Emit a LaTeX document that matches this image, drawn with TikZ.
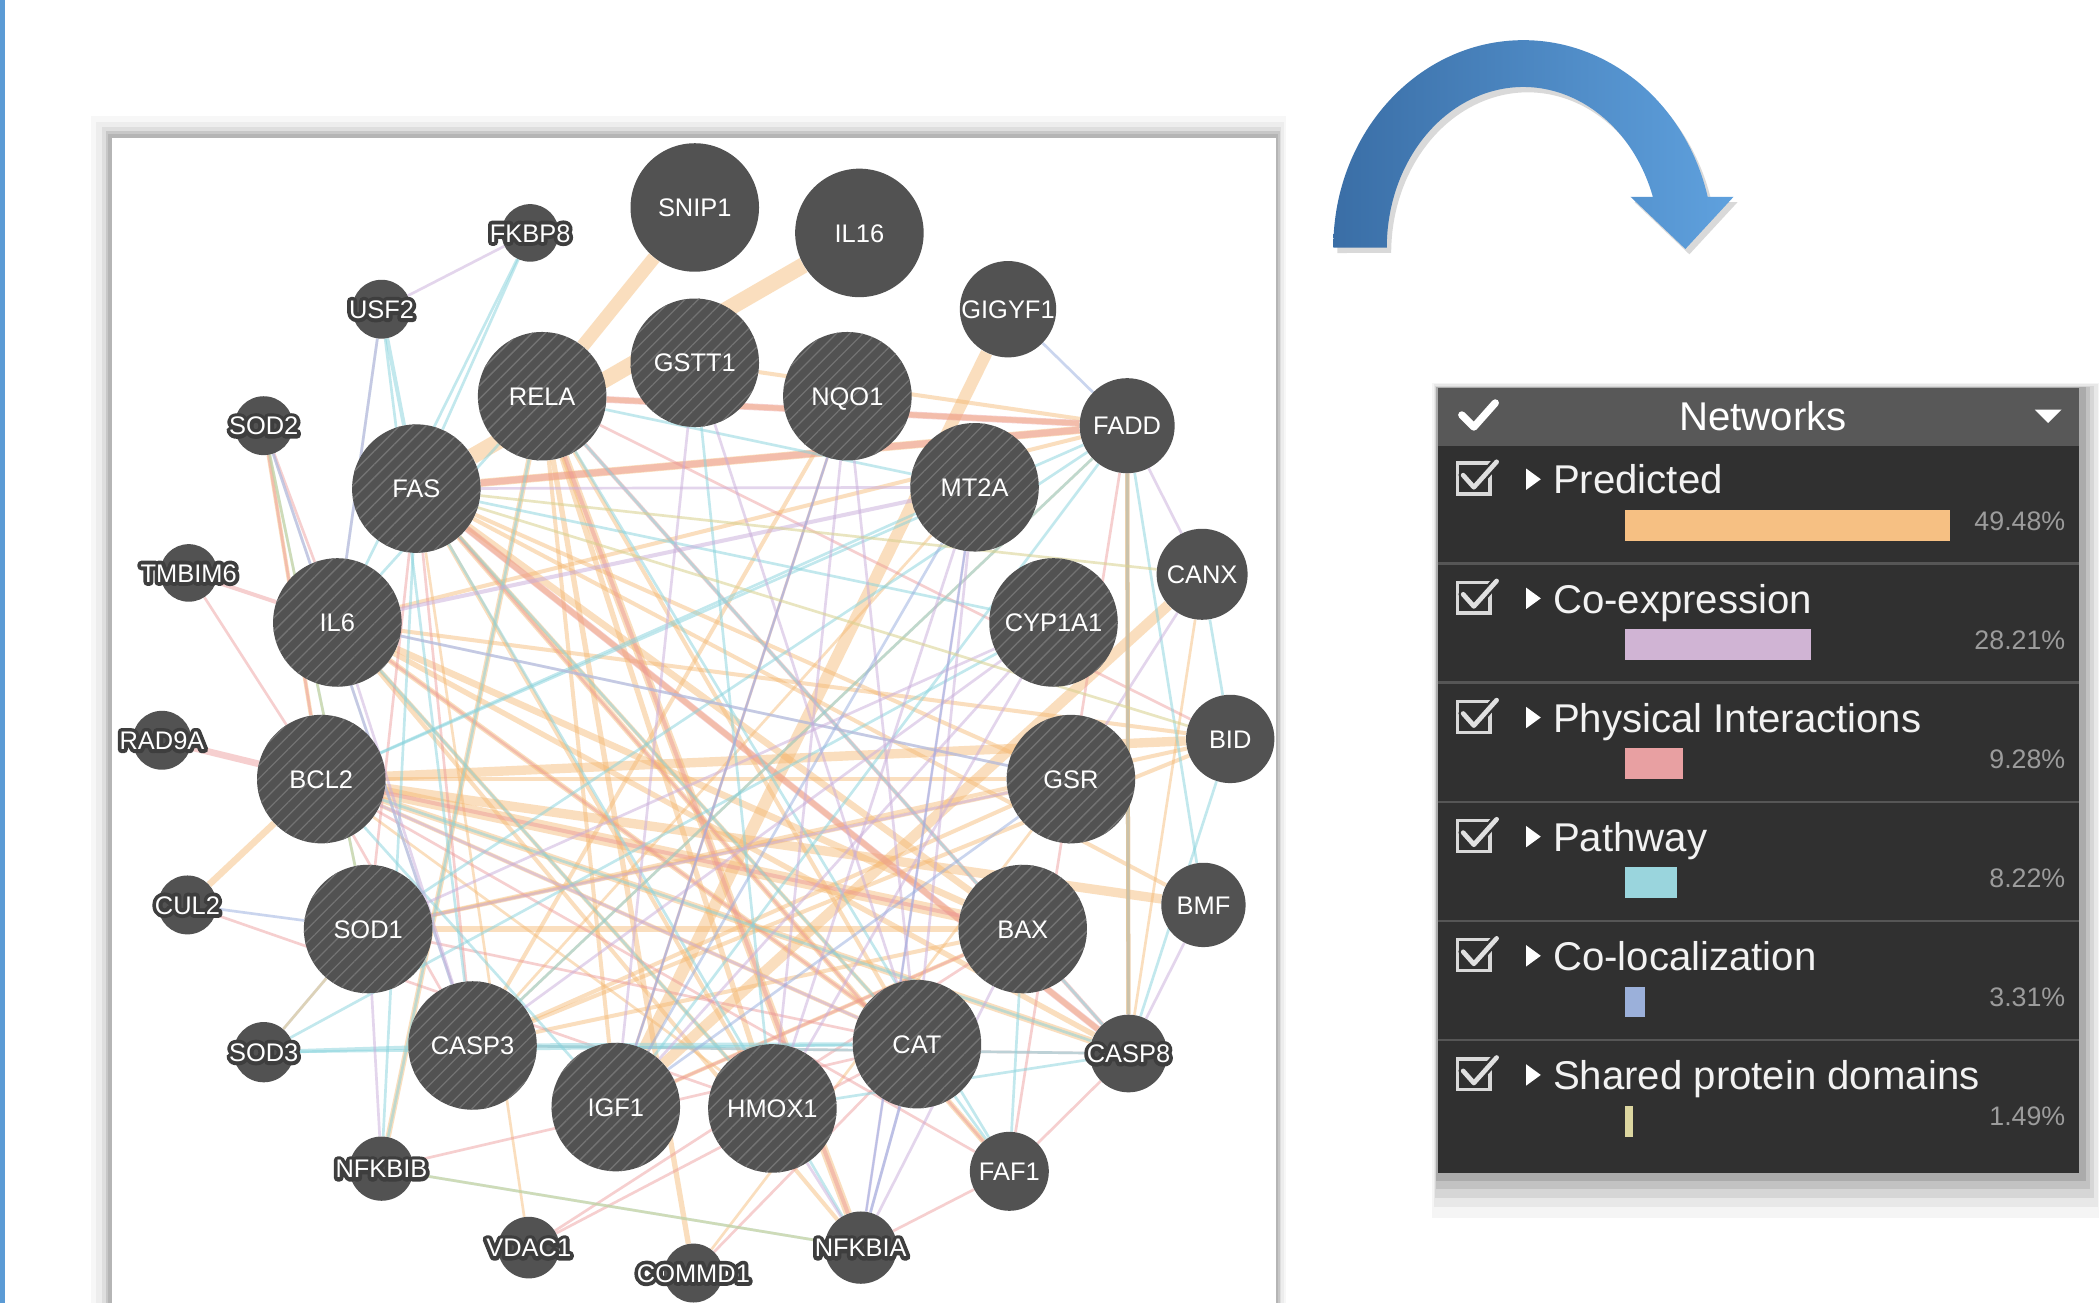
\documentclass[tikz,border=0pt]{standalone}
\usepackage{fontspec}
\setmainfont{Liberation Sans}
\newfontfamily\oboldfont[FakeBold=30]{Liberation Sans}
\usetikzlibrary{patterns.meta}
\pgfdeclarelayer{background}
\pgfsetlayers{background,main}
\definecolor{nodec}{HTML}{525252}
\definecolor{hatchc}{HTML}{737373}
\definecolor{outc}{HTML}{3E3E3E}
\definecolor{edgeP}{HTML}{F5B870}
\definecolor{edgeC}{HTML}{C9ACDA}
\definecolor{edgeX}{HTML}{EC9696}
\definecolor{edgeW}{HTML}{86D3DD}
\definecolor{edgeL}{HTML}{97ADDF}
\definecolor{edgeS}{HTML}{D8D18E}
\definecolor{barP}{HTML}{F6C083}
\definecolor{barC}{HTML}{D0B4D4}
\definecolor{barX}{HTML}{E8A0A2}
\definecolor{barW}{HTML}{9AD5DD}
\definecolor{barL}{HTML}{9BB0DA}
\definecolor{barS}{HTML}{DCD6A0}
\definecolor{panelbody}{HTML}{303030}
\definecolor{panelhead}{HTML}{585858}
\definecolor{sepc}{HTML}{565656}
\definecolor{pctc}{HTML}{9C9C9C}
\definecolor{blueedge}{HTML}{5B9BD5}
\definecolor{arrowL}{HTML}{3A6EA6}
\definecolor{arrowR}{HTML}{5FA1DE}
% outlined label: emboldened dark copy (round joins) under a white copy
\newcommand\outl[1]{%
  \makebox[0pt]{\special{pdf:literal direct 1 j 1 J 1 M}\textcolor{outc}{\oboldfont #1}}%
  \makebox[0pt]{\textcolor{white}{#1}}}
\begin{document}
\begin{tikzpicture}[x=1pt,y=-1pt,
  nfont/.style={font=\fontsize{19}{19}\selectfont, text height=13.6pt, text depth=0pt},
  big/.style={circle, fill=nodec, minimum size=96pt, inner sep=0pt, text=white, nfont},
  hatched/.style={big, postaction={pattern={Lines[angle=45,distance=7pt,line width=1pt]}, pattern color=hatchc}},
  med/.style={circle, fill=nodec, inner sep=0pt, text=white, nfont},
  small/.style={circle, fill=nodec, inner sep=0pt},
  lblw/.style={text=white, inner sep=0pt, nfont},
  ep/.style={draw=edgeP, opacity=0.45, line width=#1pt}, ep/.default=1.6,
  ec/.style={draw=edgeC, opacity=0.5, line width=#1pt}, ec/.default=1.6,
  ex/.style={draw=edgeX, opacity=0.45, line width=#1pt}, ex/.default=1.6,
  ew/.style={draw=edgeW, opacity=0.5, line width=#1pt}, ew/.default=1.6,
  el/.style={draw=edgeL, opacity=0.5, line width=#1pt}, el/.default=1.6,
  es/.style={draw=edgeS, opacity=0.55, line width=#1pt}, es/.default=1.6,
  legtxt/.style={text=white!95!black, inner sep=0pt, anchor=base west, font=\fontsize{30}{30}\selectfont},
  pcttxt/.style={text=pctc, inner sep=0pt, anchor=base east, font=\fontsize{20}{20}\selectfont}
]
\useasboundingbox (0,0) rectangle (1568,973);
% blue left edge
\fill[blueedge] (0,0) rectangle (4,973);

% ---------------- network nodes ----------------
\foreach \n/\x/\y in {SNIP1/519/155, IL16/642/174}
  \node[big] (\n) at (\x,\y) {\n};
\foreach \n/\x/\y in {RELA/405/296, GSTT1/519/271, NQO1/633/296, FAS/311/365, MT2A/728/364,
  IL6/252/465, CYP1A1/787/465, BCL2/240/582, GSR/800/582, SOD1/275/694, BAX/764/694,
  CASP3/353/781, CAT/685/780, IGF1/460/827, HMOX1/577/828}
  \node[hatched] (\n) at (\x,\y) {\n};
\foreach \n/\x/\y/\d in {GIGYF1/753/231/72, FADD/842/318/71, CANX/898/429/68, BID/919/552/66,
  BMF/899/676/63, FAF1/754/875/59}
  \node[med, minimum size=\d pt] (\n) at (\x,\y) {\n};
\foreach \n/\x/\y/\d in {FKBP8/396/174/43, USF2/285/231/44, SOD2/197/318/44, TMBIM6/141/428/43,
  RAD9A/121/553/44, CUL2/140/676/44, SOD3/197/786/45, NFKBIB/285/873/48, VDAC1/395/932/46,
  COMMD1/518/951/44, NFKBIA/643/932/54, CASP8/843/787/58}
  {\node[small, minimum size=\d pt] (\n) at (\x,\y) {};
   \node[lblw] (\n-lab) at (\n.center) {\outl{\n}};}

% ---------------- panel frame and edges (behind) ----------------
\begin{pgfonlayer}{background}
\fill[white] (0,0) rectangle (1568,973);
\fill[black!3] (68,87) rectangle (961,973);
\fill[black!7] (72,91) rectangle (959,973);
\fill[black!13] (76,95) rectangle (957,973);
\fill[black!22] (79,98) rectangle (956,973);
\fill[black!29] (81,100) rectangle (955,973);
\fill[white] (84,103) rectangle (953,973);

% predicted
\foreach \a/\b/\w in {SNIP1/RELA/10, IL16/FAS/12, GIGYF1/IGF1/9, CANX/IGF1/8, FAS/FADD/6,
  RELA/FADD/4, GSTT1/FADD/3, BCL2/BID/7, BCL2/BMF/7, BCL2/BAX/9, BCL2/CASP8/5, BCL2/GSR/3,
  IL6/BAX/5, IL6/CASP8/4, FAS/BAX/5, FAS/CASP8/4, RELA/NFKBIA/6, RELA/HMOX1/4, NFKBIB/RELA/4,
  COMMD1/RELA/4, CUL2/BCL2/5, SOD2/BCL2/3, SOD1/BAX/4, SOD1/GSR/3, SOD1/BID/3, CASP3/BID/3,
  CASP3/BAX/3, CAT/FAS/3, CAT/IL6/4, HMOX1/FAS/3, HMOX1/IL6/3, IGF1/RELA/3, NQO1/CASP3/3,
  GSR/CASP3/3, FAS/FAF1/4, FADD/CASP8/3, CANX/CASP8/2, IL6/FADD/3, FAS/GSR/3, RELA/CAT/3,
  IL6/BID/3, FAS/BMF/3, NFKBIA/IL6/3, CASP3/FADD/2, NQO1/IGF1/2, MT2A/CASP3/2, HMOX1/BCL2/2,
  IGF1/BAX/3, COMMD1/GSR/2, VDAC1/FAS/2, CAT/BCL2/3}
  \draw[ep=\w] (\a) -- (\b);
% physical
\foreach \a/\b/\w in {FAS/FADD/5, RAD9A/BCL2/5, FAS/CASP8/5, TMBIM6/IL6/3, TMBIM6/BCL2/2,
  SOD2/IL6/2, SOD2/BCL2/2, RELA/NFKBIA/3, FADD/CASP8/3, FADD/FAF1/2, BAX/BCL2/3, CASP8/FAF1/2,
  CASP8/CASP3/2, VDAC1/BAX/2, VDAC1/CAT/2, NFKBIA/FAF1/2, CUL2/HMOX1/2, CASP3/FAS/2, SOD1/CAT/2,
  IGF1/BAX/2, FAS/FAF1/2, RELA/BID/2, RELA/FADD/5, IL6/CAT/2, COMMD1/CAT/2, NFKBIB/CAT/2,
  CASP3/BCL2/2, FAF1/BCL2/2, RELA/CASP8/3, SOD1/FAS/2}
  \draw[ex=\w] (\a) -- (\b);
% pathway
\foreach \a/\b/\w in {USF2/FAS/3, USF2/IL6/2, FKBP8/FAS/2, FKBP8/IL6/2, SOD2/CASP3/2, SOD2/SOD1/2,
  SOD3/CASP3/3, SOD3/CAT/2, CASP3/CAT/3, CASP3/CASP8/2, NFKBIB/FAS/2, NFKBIB/RELA/2,
  NFKBIB/NFKBIA/2, FADD/IGF1/2, FADD/CASP3/2, BID/CASP8/2, CANX/BID/2, RELA/CASP8/2, RELA/FAF1/2,
  FAS/CAT/2, IL6/HMOX1/2, BCL2/CASP8/2, BAX/FAF1/2, CAT/FAF1/2, RELA/IL6/2, IL6/GSR/2,
  FAS/NFKBIA/2, SOD1/FADD/2, BCL2/FADD/2, GSTT1/HMOX1/2, FADD/BMF/2, CYP1A1/SOD3/2, RELA/MT2A/2,
  FAS/CYP1A1/2, IGF1/BCL2/2, HMOX1/CASP8/2, MT2A/BCL2/2, USF2/CASP3/2}
  \draw[ew=\w] (\a) -- (\b);
% co-expression
\foreach \a/\b/\w in {IL6/MT2A/3, GSTT1/IGF1/2, GSTT1/CAT/2, NQO1/HMOX1/2, NQO1/CAT/2, MT2A/CAT/2,
  MT2A/HMOX1/2, CYP1A1/IGF1/2, CYP1A1/CASP3/2, CYP1A1/HMOX1/2, CYP1A1/SOD1/2, GSR/SOD1/2,
  GSR/IL6/2, USF2/FKBP8/2, USF2/IL6/2, HMOX1/NFKBIA/2, CAT/NFKBIA/2, BMF/CASP8/2, FADD/CASP8/2,
  MT2A/NFKBIA/2, NQO1/IGF1/2, SOD1/NFKBIB/2, SOD2/CASP3/2, CAT/BCL2/2, FAS/MT2A/2, CANX/GSR/2,
  CASP3/IL6/2, SOD3/SOD1/2, CANX/FADD/2, BAX/NFKBIA/2}
  \draw[ec=\w] (\a) -- (\b);
% co-localization
\foreach \a/\b/\w in {GIGYF1/FADD/2, CUL2/SOD1/2, MT2A/IGF1/2, CAT/NFKBIA/2, FADD/CASP8/2,
  MT2A/NFKBIA/1.5, GSR/IGF1/2, NQO1/IGF1/1.5}
  \draw[el=\w] (\a) -- (\b);
% shared protein domains
\foreach \a/\b/\w in {FADD/CASP8/3, SOD3/SOD1/2, NFKBIB/NFKBIA/2, FAS/BID/2, SOD2/SOD1/2, FAS/CANX/2}
  \draw[es=\w] (\a) -- (\b);
\end{pgfonlayer}

% ---------------- curved arrow ----------------
\fill[black, opacity=0.15] (999,189) arc[start angle=180,end angle=345.81,x radius=142,y radius=155]
  -- (1298,151) -- (1262,190) -- (1221,151) -- (1238,151)
  arc[start angle=341.54,end angle=180,x radius=102,y radius=120] -- cycle;
\shade[left color=arrowL, right color=arrowR]
  (996,185) arc[start angle=180,end angle=345.81,x radius=142,y radius=155]
  -- (1295,147) -- (1259,186) -- (1218,147) -- (1234.7,147)
  arc[start angle=341.54,end angle=180,x radius=102,y radius=120] -- cycle;

% ---------------- legend panel ----------------
\fill[black!4] (1070,286) rectangle (1568,910);
\fill[black!9] (1071,287) rectangle (1567,902);
\fill[black!16] (1072,288) rectangle (1564,895);
\fill[black!24] (1073,289) rectangle (1561,888);
\fill[black!33] (1073,289) rectangle (1558,882);
\fill[panelbody] (1074,290) rectangle (1553,876);
\fill[panelhead] (1074,290) rectangle (1553,333);
\draw[white, line width=5.5pt, line cap=round, line join=round] (1092,310) -- (1101,319) -- (1117,301);
\node[text=white, inner sep=0pt, anchor=base, font=\fontsize{30}{30}\selectfont] (nethead) at (1317,321.5) {Networks};
\fill[white] (1520,306) -- (1540,306) -- (1530,316) -- cycle;
\foreach \y in {421,510,599,688,777}
  \draw[sepc, line width=2pt] (1074,\y) -- (1553,\y);
\foreach \i/\lab/\len/\pc/\col in {0/Predicted/243/49.48\%/barP, 1/Co-expression/139/28.21\%/barC,
  2/Physical Interactions/43/9.28\%/barX, 3/Pathway/39/8.22\%/barW,
  4/Co-localization/15/3.31\%/barL, 5/Shared protein domains/6/1.49\%/barS}
{
  \pgfmathsetmacro\t{333+89*\i}
  \draw[black!15, line width=2.5pt] (1089,\t+13) rectangle (1113,\t+36);
  \draw[panelbody, line width=7pt, line cap=round, line join=round] (1093,\t+22) -- (1101,\t+31) -- (1118,\t+12);
  \draw[black!12, line width=3.5pt, line cap=round, line join=round] (1093,\t+22) -- (1101,\t+31) -- (1118,\t+12);
  \fill[white] (1140,\t+17) -- (1140,\t+33) -- (1151,\t+25) -- cycle;
  \node[legtxt] (lab\i) at (1160,\t+36) {\lab};
  \fill[\col] (1214,\t+48) rectangle (1214+\len,\t+71);
  \node[pcttxt] (pct\i) at (1543,\t+63) {\pc};
}
\end{tikzpicture}
\end{document}
